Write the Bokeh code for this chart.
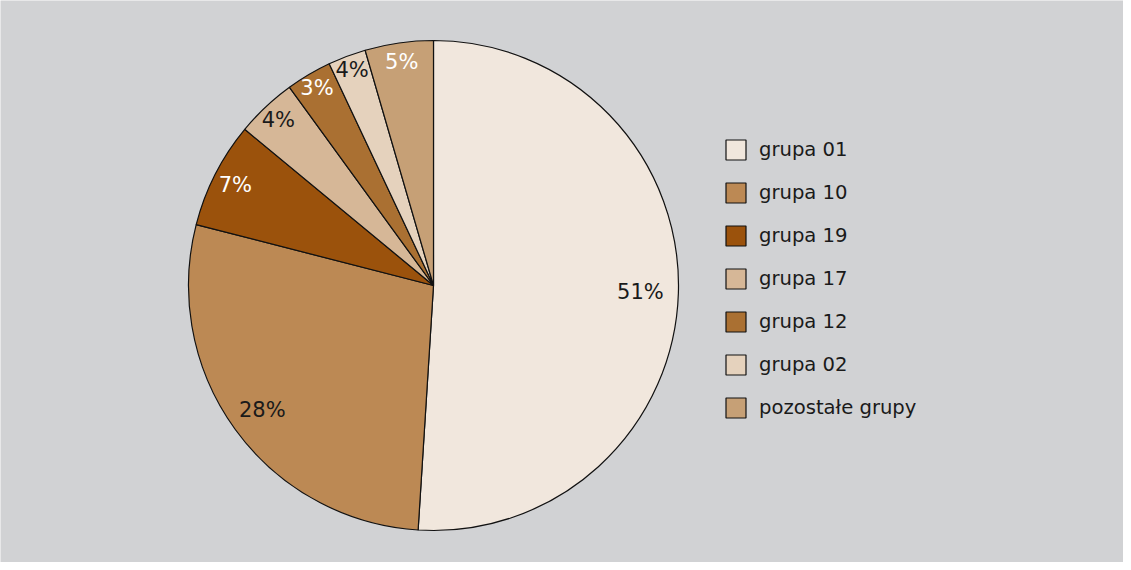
import numpy as np
from bokeh.plotting import figure
from bokeh.models import ColumnDataSource, Legend, LegendItem
from bokeh.core.properties import value
from bokeh.embed import file_html
from bokeh.resources import INLINE

groups = ["grupa 01", "grupa 10", "grupa 19", "grupa 17", "grupa 12", "grupa 02", "pozostałe grupy"]
shares = [51.0, 28.0, 7.0, 4.0, 3.0, 2.5, 4.5]
labels = ["51%", "28%", "7%", "4%", "3%", "4%", "5%"]
colors = ["#f1e7dd", "#bc8954", "#9b520c", "#d6b797", "#aa7032", "#e5d2bd", "#c6a076"]
label_colors = ["#1a1a1a", "#1a1a1a", "#ffffff", "#1a1a1a", "#ffffff", "#1a1a1a", "#ffffff"]

W, H = 1123, 562
CX, CY, R = 433, 277, 245

frac = np.array(shares) / sum(shares)
cum = np.concatenate([[0], np.cumsum(frac)])
start = np.pi / 2 - cum[:-1] * 2 * np.pi
end = np.pi / 2 - cum[1:] * 2 * np.pi
mid = (start + end) / 2
lab_r = R * (0.845 - 0.0315 * (np.log(frac) + 0.673))
lx = CX + lab_r * np.cos(mid)
ly = CY + lab_r * np.sin(mid)

src = ColumnDataSource(dict(group=groups, start=start, end=end, color=colors,
                            lx=lx, ly=ly, label=labels, lcolor=label_colors))

p = figure(width=W, height=H, x_range=(0, W), y_range=(0, H),
           output_backend="svg", toolbar_location=None, min_border=0,
           background_fill_color="#d1d2d4", border_fill_color="#d1d2d4",
           outline_line_color=None)
p.axis.visible = False
p.grid.visible = False

wedges = p.wedge(x=CX, y=CY, radius=R, start_angle="start", end_angle="end",
                 direction="clock", fill_color="color", line_color="#111111",
                 line_width=1.2, source=src)

p.text(x="lx", y="ly", text="label", text_color="lcolor", source=src,
       text_align="center", text_baseline="middle",
       text_font=value("DejaVu Sans"), text_font_size="21px")

items = [LegendItem(label=g, renderers=[wedges], index=i) for i, g in enumerate(groups)]
legend = Legend(items=items, location=(723, 142), orientation="vertical",
                glyph_width=25, glyph_height=25, spacing=18, label_standoff=11,
                padding=0, margin=0, border_line_color=None,
                background_fill_alpha=0, label_text_font="DejaVu Sans",
                label_text_font_size="19.6px", label_text_color="#1a1a1a")
p.add_layout(legend, "center")

open("out.html", "w").write(file_html(p, INLINE))
